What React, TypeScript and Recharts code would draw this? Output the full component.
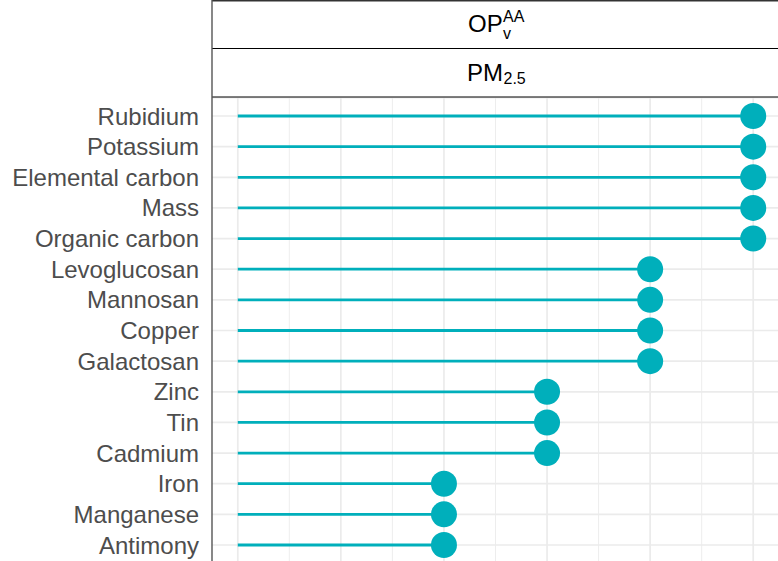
import React from 'react';
import { ScatterChart, Scatter, XAxis, YAxis, CartesianGrid, ReferenceLine } from 'recharts';

const categories = [
  'Rubidium', 'Potassium', 'Elemental carbon', 'Mass', 'Organic carbon',
  'Levoglucosan', 'Mannosan', 'Copper', 'Galactosan',
  'Zinc', 'Tin', 'Cadmium', 'Iron', 'Manganese', 'Antimony',
];
const values = [5, 5, 5, 5, 5, 4, 4, 4, 4, 3, 3, 3, 2, 2, 2];
const majorTicks = [0, 1, 2, 3, 4, 5];
const minorTicks = [0.5, 1.5, 2.5, 3.5, 4.5];
const rowTicks = categories.map((_, i) => i);
const xDomain: [number, number] = [-0.25, 5.25];

const data = categories.map((name, i) => ({ name, idx: i, value: values[i] }));

const COLOR = '#00AFBB';
const FONT = '"Liberation Sans", Arial, Helvetica, sans-serif';

const scaleX = (args: any, t: number): number => {
  const s = args?.xAxis?.scale;
  if (typeof s === 'function') return s(t);
  if (s && typeof s.map === 'function') return s.map(t);
  if (s && typeof s.scale === 'function') return s.scale(t);
  const off = args?.offset;
  return off.left + ((t - xDomain[0]) / (xDomain[1] - xDomain[0])) * off.width;
};

const Dot = (props: any) => {
  const { cx, cy } = props;
  if (cx == null || cy == null) return null;
  return <circle cx={cx} cy={cy} r={13} fill={COLOR} />;
};

export default function App() {
  return (
    <div
      style={{
        position: 'absolute',
        left: 0,
        top: 0,
        width: 778,
        height: 561,
        overflow: 'hidden',
        background: '#fff',
        fontFamily: FONT,
      }}
    >
      <div style={{ position: 'absolute', left: 0, top: 0 }}>
        <ScatterChart
          width={779}
          height={570}
          margin={{ top: 97.6, right: 0, bottom: 6.6, left: 0 }}
          style={{ fontFamily: FONT }}
        >
          <CartesianGrid
            stroke="#EBEBEB"
            strokeWidth={1.7}
            horizontal={true}
            vertical={true}
            verticalCoordinatesGenerator={(args: any) => majorTicks.map((t) => scaleX(args, t))}
          />
          <CartesianGrid
            stroke="#EBEBEB"
            strokeWidth={0.9}
            horizontal={false}
            vertical={true}
            verticalCoordinatesGenerator={(args: any) => minorTicks.map((t) => scaleX(args, t))}
          />
          <XAxis
            type="number"
            dataKey="value"
            domain={xDomain}
            ticks={majorTicks}
            allowDataOverflow
            hide
          />
          <YAxis
            type="number"
            dataKey="idx"
            domain={[-0.6, 14.6]}
            ticks={rowTicks}
            reversed
            allowDataOverflow
            interval={0}
            width={212}
            axisLine={false}
            tickLine={false}
            tickSize={8}
            tickMargin={5}
            tickFormatter={(i: number) => categories[i]}
            tick={{ fontSize: 24, fill: '#4D4D4D', fontFamily: FONT }}
          />
          {data.map((d) => (
            <ReferenceLine
              key={d.name}
              segment={[{ x: 0, y: d.idx }, { x: d.value, y: d.idx }]}
              stroke={COLOR}
              strokeWidth={2.8}
            />
          ))}
          <Scatter data={data} dataKey="value" shape={<Dot />} isAnimationActive={false} />
        </ScatterChart>
      </div>
      <svg
        width={778}
        height={561}
        style={{ position: 'absolute', left: 0, top: 0, pointerEvents: 'none' }}
      >
        <rect x={212} y={0.5} width={600} height={47.5} fill="#fff" />
        <rect x={212} y={48.5} width={600} height={48.5} fill="#fff" />
        <line x1={212} x2={778} y1={0.75} y2={0.75} stroke="#333" strokeWidth={1.5} />
        <line x1={212} x2={778} y1={48.5} y2={48.5} stroke="#000" strokeWidth={1.1} />
        <line x1={212} x2={778} y1={97} y2={97} stroke="#000" strokeWidth={1.1} />
        <line x1={212} x2={212} y1={0} y2={561} stroke="#555" strokeWidth={1.4} />
        <text fontFamily={FONT} fill="#000">
          <tspan x={468} y={32} fontSize={24}>OP</tspan>
          <tspan x={503} y={22} fontSize={16}>AA</tspan>
          <tspan x={503} y={39} fontSize={16}>v</tspan>
        </text>
        <text fontFamily={FONT} fill="#000">
          <tspan x={467} y={81} fontSize={24}>PM</tspan>
          <tspan x={503.5} y={84} fontSize={16}>2.5</tspan>
        </text>
      </svg>
    </div>
  );
}
